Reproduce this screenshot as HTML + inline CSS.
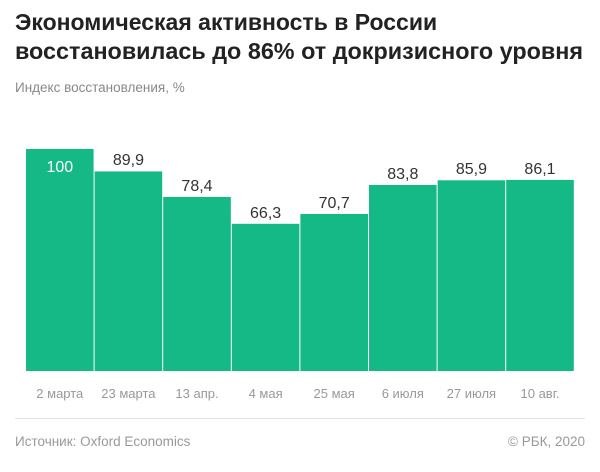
<!DOCTYPE html>
<html><head><meta charset="utf-8"><style>
body{margin:0;background:#fff;width:600px;height:467px;overflow:hidden;font-family:"Liberation Sans",sans-serif;}
</style></head><body>
<svg width="600" height="467" xmlns="http://www.w3.org/2000/svg" font-family="Liberation Sans, sans-serif">
<text x="15" y="30" font-size="23" font-weight="bold" fill="#222">Экономическая активность в России</text>
<text x="15" y="59" font-size="23" font-weight="bold" fill="#222" textLength="568" lengthAdjust="spacingAndGlyphs">восстановилась до 86% от докризисного уровня</text>
<text x="15" y="92" font-size="13.5" fill="#888">Индекс восстановления, %</text>
<g fill="#14b985">
<rect x="26" y="149" width="67.6" height="222"/>
<rect x="94.6" y="171.4" width="67.6" height="199.6"/>
<rect x="163.2" y="197" width="67.6" height="174"/>
<rect x="231.8" y="223.8" width="67.6" height="147.2"/>
<rect x="300.4" y="214" width="67.6" height="157"/>
<rect x="369" y="185" width="67.6" height="186"/>
<rect x="437.6" y="180.3" width="67.6" height="190.7"/>
<rect x="506.2" y="179.9" width="67.6" height="191.1"/>
</g>
<g font-size="16" text-anchor="middle" fill="#333">
<text x="59.8" y="172" fill="#fff">100</text>
<text x="128.4" y="165">89,9</text>
<text x="197" y="191">78,4</text>
<text x="265.6" y="218">66,3</text>
<text x="334.2" y="208">70,7</text>
<text x="402.8" y="179">83,8</text>
<text x="471.4" y="174">85,9</text>
<text x="540" y="174">86,1</text>
</g>
<g font-size="13" text-anchor="middle" fill="#999">
<text x="59.8" y="398">2 марта</text>
<text x="128.4" y="398">23 марта</text>
<text x="197" y="398">13 апр.</text>
<text x="265.6" y="398">4 мая</text>
<text x="334.2" y="398">25 мая</text>
<text x="402.8" y="398">6 июля</text>
<text x="471.4" y="398">27 июля</text>
<text x="540" y="398">10 авг.</text>
</g>
<line x1="15" y1="418.5" x2="585" y2="418.5" stroke="#e3e3e3" stroke-width="1"/>
<text x="15" y="446" font-size="13.5" fill="#999">Источник: Oxford Economics</text>
<text x="585" y="446" font-size="13.5" fill="#999" text-anchor="end">© РБК, 2020</text>
</svg>
</body></html>
